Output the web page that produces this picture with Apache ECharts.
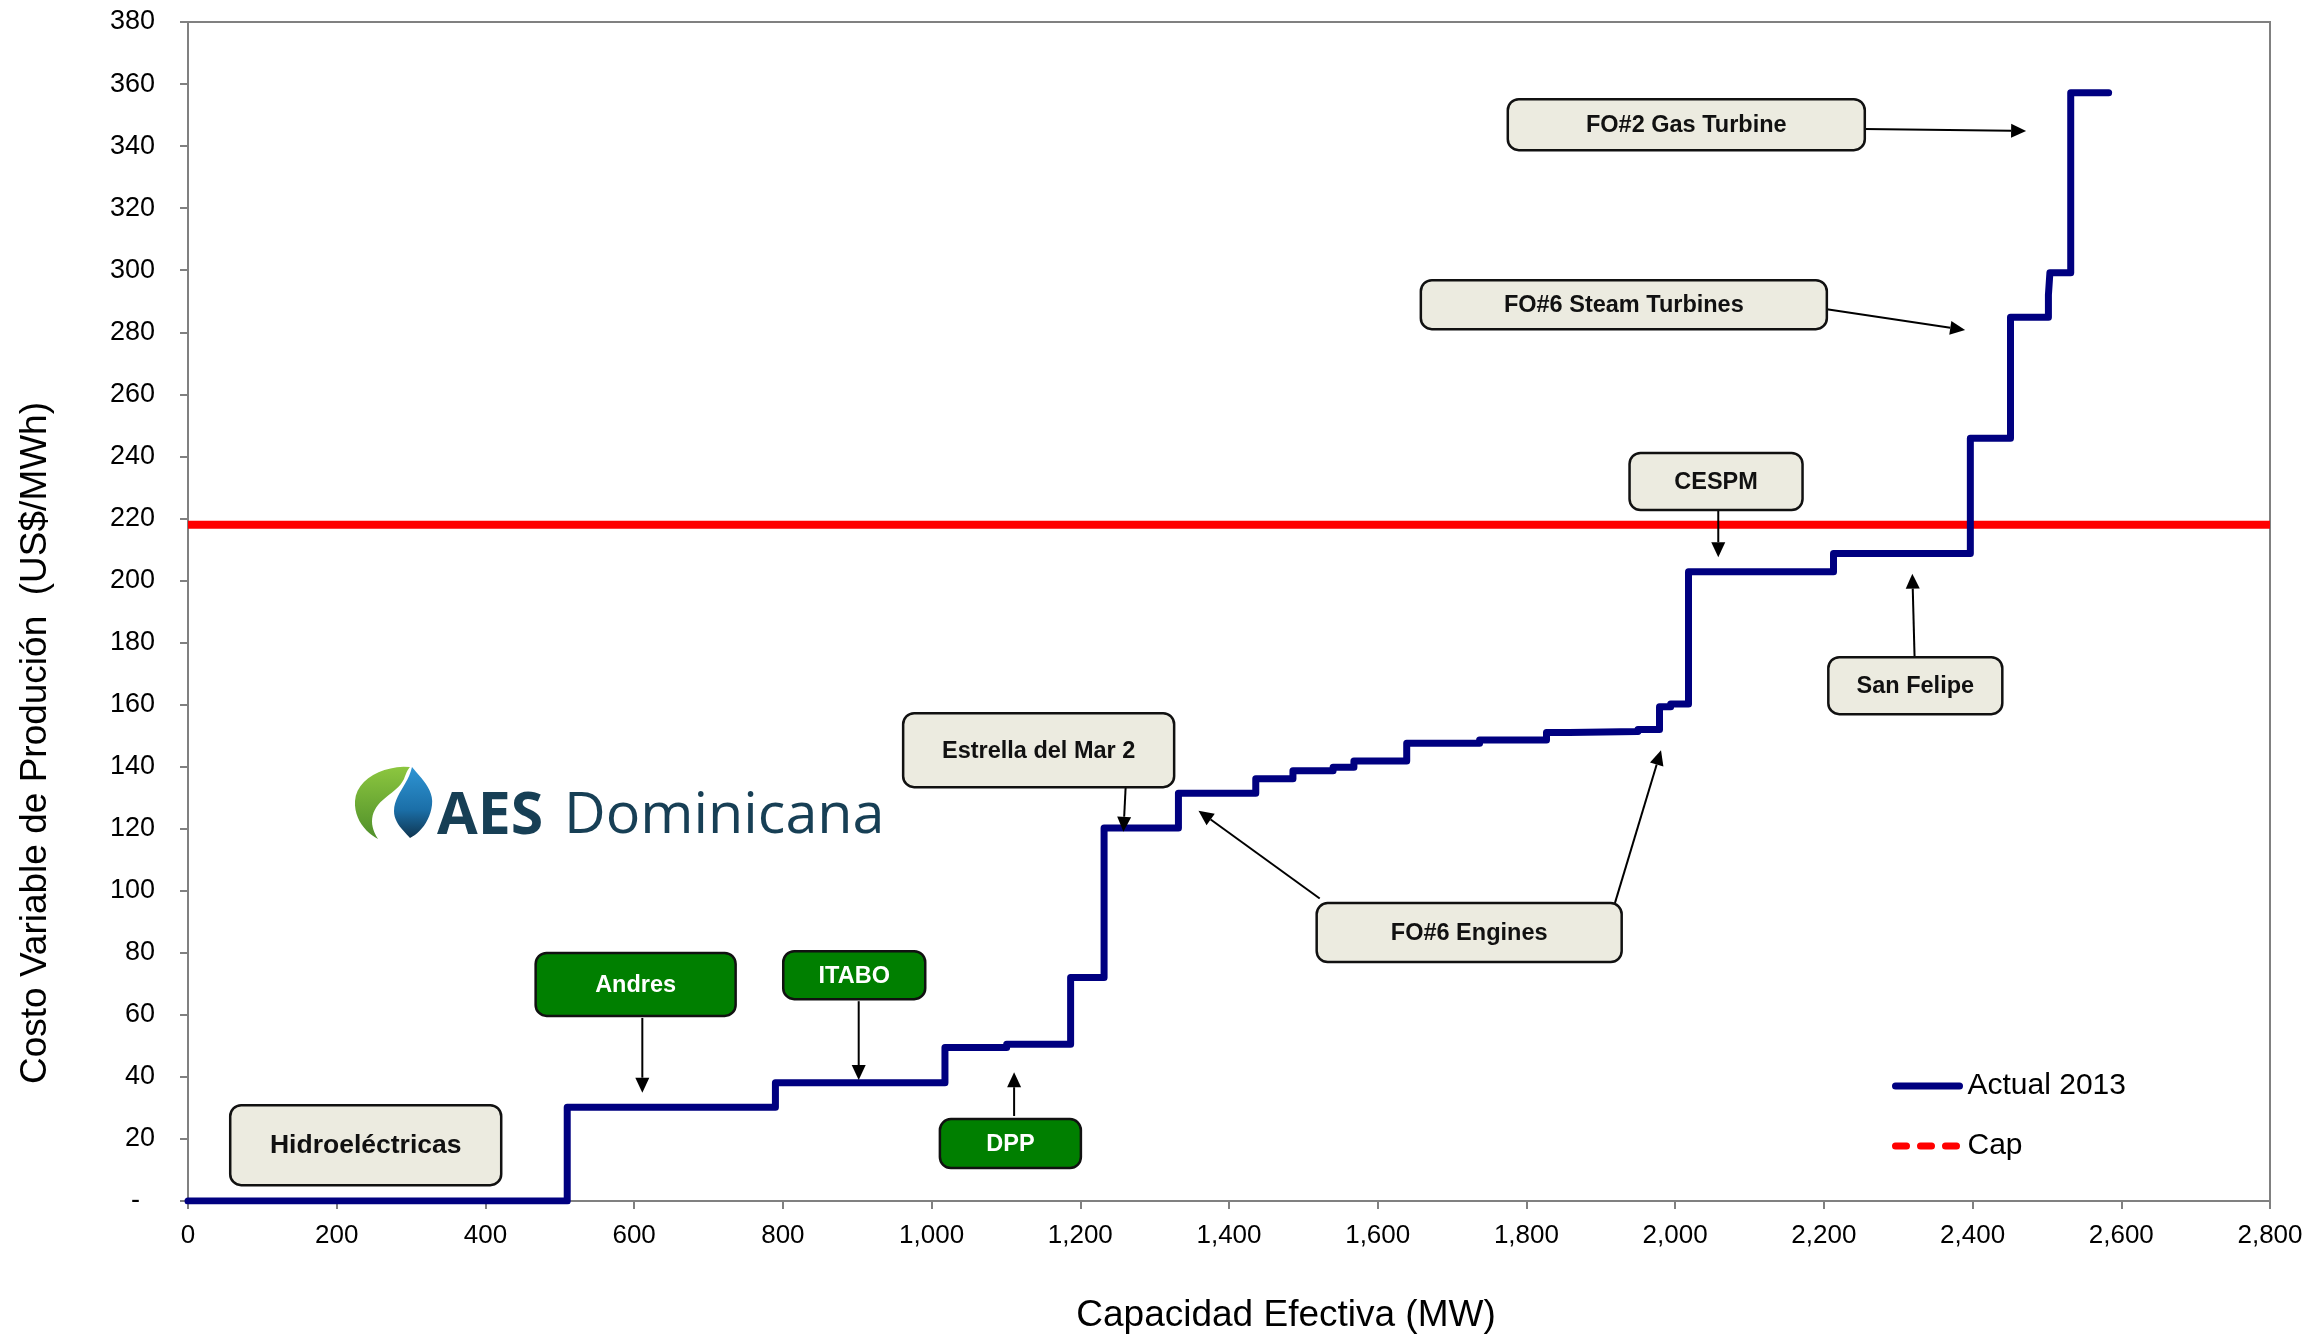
<!DOCTYPE html>
<html>
<head>
<meta charset="utf-8">
<script src="https://cdn.jsdelivr.net/npm/echarts@6/dist/echarts.min.js"></script>
<style>
  html, body { margin: 0; padding: 0; background: #fff; }
  #main { width: 2324px; height: 1336px; }
</style>
</head>
<body>
<div id="main"></div>
<script>
// curva de oferta: inicio de cada bloque (MW) y su costo variable (US$/MWh)
var capacityMW = [0, 510, 790, 1018, 1101, 1187, 1232, 1332, 1436, 1486, 1540, 1568, 1639, 1737, 1827, 1858, 1950, 1979, 1994, 2018, 2213, 2397, 2451, 2502, 2504, 2532, 2583];
var costUSD    = [0, 30.2, 38.1, 49.5, 50.5, 72, 120.2, 131.4, 136.1, 138.7, 139.8, 141.8, 147.5, 148.6, 151.0, 151.3, 152, 159.3, 160.2, 202.8, 208.7, 245.8, 284.8, 292, 299.2, 357.2, 357.2];

// tope de precio
var capValue = 218;
var capSpan = [0, 2800];

// ejes
var xMax = 2800, xStep = 200;
var yMax = 380, yStep = 20;

// anotaciones: texto, centro de la caja en coordenadas de datos
var noteLabels  = ['Hidroeléctricas', 'Andres', 'ITABO', 'DPP', 'Estrella del Mar 2', 'FO#6 Engines', 'CESPM', 'San Felipe', 'FO#6 Steam Turbines', 'FO#2 Gas Turbine'];
var noteCenters = [[239, 18], [602, 69.8], [896, 72.8], [1106, 18.5], [1144, 145.3], [1723, 86.5], [2055, 231.9], [2323, 166.1], [1931, 288.9], [2015, 346.9]];
// flechas: [desde, hasta] en coordenadas de datos
var noteArrows = [
  [[611, 59], [611, 34.9]],
  [[902, 64.4], [902, 39]],
  [[1111, 27.4], [1111, 41.5]],
  [[1261, 133.4], [1258, 119]],
  [[1522, 97.5], [1359, 125.8]],
  [[1919, 96], [1981, 145.3]],
  [[2058, 222.7], [2058, 207.5]],
  [[2322, 175.3], [2319, 202.2]],
  [[2204, 287.4], [2390, 280.7]],
  [[2254, 345.5], [2472, 344.9]]
];

// tamaño de cada caja (px) y estilo
var boxSize = {
  'Hidroeléctricas': [271, 80], 'Andres': [200, 63], 'ITABO': [142, 48], 'DPP': [141, 49],
  'Estrella del Mar 2': [271, 74], 'FO#6 Engines': [305, 59], 'CESPM': [173, 57],
  'San Felipe': [174, 57], 'FO#6 Steam Turbines': [406, 49], 'FO#2 Gas Turbine': [357, 51]
};
var greenBoxes = ['Andres', 'ITABO', 'DPP'];

var font = '"Liberation Sans", Arial, sans-serif';
var myChart = echarts.init(document.getElementById('main'));

function vGrad(stops) {
  return {
    type: 'linear', x: 0, y: 0, x2: 0, y2: 1,
    colorStops: stops.map(function (s) { return { offset: s[0], color: s[1] }; })
  };
}

// curvas bezier del logo -> puntos de polígono
function bezierPoints(start, curves) {
  var pts = [start.slice()];
  var p = start;
  curves.forEach(function (c) {
    for (var k = 1; k <= 12; k++) {
      var t = k / 12, u = 1 - t;
      pts.push([
        u * u * u * p[0] + 3 * u * u * t * c[0] + 3 * u * t * t * c[2] + t * t * t * c[4],
        u * u * u * p[1] + 3 * u * u * t * c[1] + 3 * u * t * t * c[3] + t * t * t * c[5]
      ]);
    }
    p = [c[4], c[5]];
  });
  return pts;
}

myChart.setOption({
  animation: false,
  backgroundColor: '#fff',
  grid: {
    left: 188, right: 54, top: 22, bottom: 135,
    show: true, borderColor: '#808080', borderWidth: 2
  },
  legend: {
    orient: 'vertical',
    left: 1887, top: 1066,
    itemWidth: 64, itemHeight: 28, itemGap: 30,
    itemStyle: { opacity: 0 },
    textStyle: { fontFamily: font, fontSize: 30, color: '#000', padding: [0, 0, 0, 3] },
    data: [
      { name: 'Actual 2013', lineStyle: { width: 7, cap: 'round' } },
      { name: 'Cap', lineStyle: { width: 7, type: [11, 14], cap: 'round' } }
    ]
  },
  xAxis: {
    type: 'value', min: 0, max: xMax, interval: xStep,
    axisLine: { lineStyle: { color: '#808080', width: 2 } },
    axisTick: { length: 8, lineStyle: { color: '#808080', width: 2 } },
    splitLine: { show: false },
    axisLabel: {
      margin: 22, fontFamily: font, fontSize: 26, color: '#000',
      formatter: function (v) { return v.toLocaleString('en-US'); }
    }
  },
  yAxis: {
    type: 'value', min: 0, max: yMax, interval: yStep,
    axisLine: { show: true, lineStyle: { color: '#808080', width: 2 } },
    axisTick: { show: true, length: 8, lineStyle: { color: '#808080', width: 2 } },
    splitLine: { show: false },
    axisLabel: {
      margin: 33, fontFamily: font, fontSize: 27, color: '#000',
      formatter: function (v) { return v === 0 ? '-  ' : String(v); }
    }
  },
  series: [
    {
      name: 'Actual 2013',
      type: 'line',
      step: 'end',
      symbol: 'none',
      data: capacityMW.map(function (x, i) { return [x, costUSD[i]]; }),
      lineStyle: { color: '#000080', width: 7, join: 'round', cap: 'round' },
      itemStyle: { color: '#000080' },
      z: 5
    },
    {
      name: 'Cap',
      type: 'line',
      symbol: 'none',
      data: capSpan.map(function (x) { return [x, capValue]; }),
      lineStyle: { color: '#ff0000', width: 8 },
      itemStyle: { color: '#ff0000' },
      z: 4
    }
  ]
});

function px(p) { return myChart.convertToPixel({ gridIndex: 0 }, p); }

var elems = [];

// títulos de ejes
elems.push({
  type: 'text', x: 1286, y: 1316,
  style: { text: 'Capacidad Efectiva (MW)', font: '37px ' + font, fill: '#000', align: 'center', verticalAlign: 'middle' }
});
elems.push({
  type: 'text', x: 36, y: 743, rotation: Math.PI / 2,
  style: { text: 'Costo Variable de Produción  (US$/MWh)', font: '37px ' + font, fill: '#000', align: 'center', verticalAlign: 'middle' }
});

// cajas de anotación
noteLabels.forEach(function (label, i) {
  var c = px(noteCenters[i]);
  var s = boxSize[label];
  var green = greenBoxes.indexOf(label) >= 0;
  elems.push({
    type: 'rect', z: 20,
    shape: { x: c[0] - s[0] / 2, y: c[1] - s[1] / 2, width: s[0], height: s[1], r: 11 },
    style: { fill: green ? '#007f00' : '#ecebe0', stroke: '#111', lineWidth: 2.5 }
  });
  elems.push({
    type: 'text', z: 21, x: c[0], y: c[1] + 1,
    style: {
      text: label, font: 'bold ' + (label === 'Hidroeléctricas' ? 26.5 : 23.5) + 'px ' + font,
      fill: green ? '#fff' : '#111', align: 'center', verticalAlign: 'middle'
    }
  });
});

// flechas
noteArrows.forEach(function (a) {
  var p0 = px(a[0]), p1 = px(a[1]);
  var dx = p1[0] - p0[0], dy = p1[1] - p0[1];
  var len = Math.sqrt(dx * dx + dy * dy);
  var ux = dx / len, uy = dy / len;
  var head = 15, half = 7;
  var bx = p1[0] - ux * head, by = p1[1] - uy * head;
  elems.push({
    type: 'line', z: 19,
    shape: { x1: p0[0], y1: p0[1], x2: bx, y2: by },
    style: { stroke: '#000', lineWidth: 2 }
  });
  elems.push({
    type: 'polygon', z: 19,
    shape: { points: [[p1[0], p1[1]], [bx - uy * half, by + ux * half], [bx + uy * half, by - ux * half]] },
    style: { fill: '#000' }
  });
});

// logo AES Dominicana
elems.push({
  type: 'polygon', x: 354, y: 765, z: 10,
  shape: { points: bezierPoints([56, 2], [[30, 0, 2, 14, 1, 36], [0, 54, 12, 68, 24, 74], [16, 62, 16, 50, 24, 40], [32, 30, 44, 26, 50, 14], [52, 8, 54, 4, 56, 2]]) },
  style: { fill: vGrad([[0, '#8cc63f'], [1, '#4f8f2a']]) }
});
elems.push({
  type: 'polygon', x: 354, y: 765, z: 11,
  shape: { points: bezierPoints([58, 2], [[66, 12, 80, 24, 78, 40], [76, 56, 66, 68, 56, 73], [50, 66, 40, 58, 40, 46], [40, 30, 54, 20, 58, 2]]) },
  style: { fill: vGrad([[0, '#2f95d4'], [0.6, '#1b6fa8'], [1, '#0f3550']]) }
});
elems.push({
  type: 'text', x: 437, y: 817, z: 10,
  style: { text: 'AES', font: 'bold 59px "Open Sans", sans-serif', fill: '#173f55', align: 'left', verticalAlign: 'middle' }
});
elems.push({
  type: 'text', x: 564, y: 817, z: 10,
  style: { text: 'Dominicana', font: '57.5px "Open Sans", sans-serif', fill: '#173f55', align: 'left', verticalAlign: 'middle' }
});

myChart.setOption({ graphic: elems });

window.addEventListener('resize', function () {
  myChart.resize();
});
</script>
</body>
</html>
